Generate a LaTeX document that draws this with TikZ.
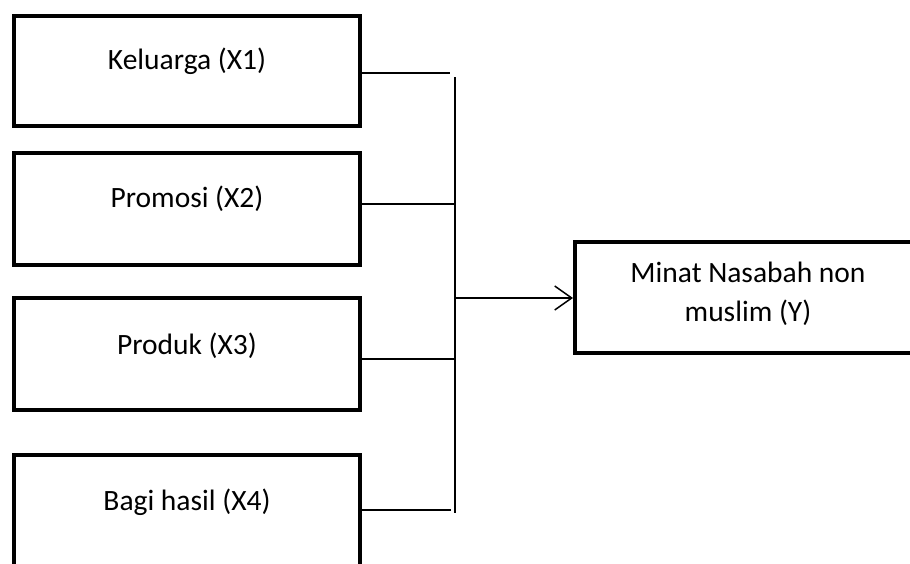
\documentclass[tikz,border=0pt]{standalone}
\usepackage{fontspec}
\setmainfont{Carlito}
\usetikzlibrary{arrows.meta}

\begin{document}
\begin{tikzpicture}[x=1pt,y=-1pt,
  box/.style={draw,line width=4pt,minimum width=346pt,inner sep=0pt},
  lbl/.style={anchor=base,inner sep=0pt,align=center,font=\fontsize{29.5}{39.5}\selectfont},
  conn/.style={line width=1.5pt}]
\useasboundingbox (0,0) rectangle (910,563);

% Define the boxes.
\node[box,minimum height=110pt] (X1) at (187,71) {};
\node[box,minimum height=112pt] (X2) at (187,209) {};
\node[box,minimum height=112pt] (X3) at (187,354) {};
\node[box,minimum height=165pt] (X4) at (187,537.5) {};
\node[box,minimum width=385pt,minimum height=111pt] (Y) at (767.5,297.5) {};

\node[lbl] (tX1) at (187,69.3) {Keluarga (X1)};
\node[lbl] (tX2) at (187,207) {Promosi (X2)};
\node[lbl] (tX3) at (187,354) {Produk (X3)};
\node[lbl] (tX4) at (187,510.7) {Bagi hasil (X4)};
% base is the last line here
\node[lbl] (tY) at (748,321.7) {Minat Nasabah non\\muslim (Y)};

% Define the bus.
\coordinate (B1) at (455,77);
\coordinate (B2) at (455,513);
\coordinate (E1) at (450,73);
\coordinate (E2) at (455,204);
\coordinate (E3) at (455,359);
\coordinate (E4) at (451,510);
\coordinate (A) at (455,298);

\draw[conn] (B1) -- (B2);
\draw[conn] (X1.east |- E1) -- (E1);
\draw[conn] (X2.east |- E2) -- (E2);
\draw[conn] (X3.east |- E3) -- (E3);
\draw[conn] (X4.east |- E4) -- (E4);
\draw[conn,-{Straight Barb[length=17pt,width=24pt]}] (A) -- (Y.west |- A);

\end{tikzpicture}
\end{document}
